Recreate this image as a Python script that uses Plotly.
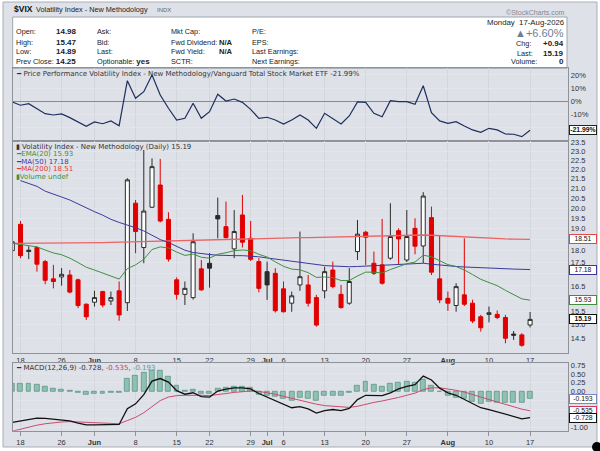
import math
import plotly.graph_objects as go

W, H = 600, 451

# trading days shown on the chart
dates = [
    "2026-05-15", "2026-05-18", "2026-05-19", "2026-05-20", "2026-05-21", "2026-05-22",
    "2026-05-26", "2026-05-27", "2026-05-28", "2026-05-29",
    "2026-06-01", "2026-06-02", "2026-06-03", "2026-06-04", "2026-06-05",
    "2026-06-08", "2026-06-09", "2026-06-10", "2026-06-11", "2026-06-12",
    "2026-06-15", "2026-06-16", "2026-06-17", "2026-06-18",
    "2026-06-22", "2026-06-23", "2026-06-24", "2026-06-25", "2026-06-26",
    "2026-06-29", "2026-06-30", "2026-07-01", "2026-07-02",
    "2026-07-06", "2026-07-07", "2026-07-08", "2026-07-09", "2026-07-10",
    "2026-07-13", "2026-07-14", "2026-07-15", "2026-07-16", "2026-07-17",
    "2026-07-20", "2026-07-21", "2026-07-22", "2026-07-23", "2026-07-24",
    "2026-07-27", "2026-07-28", "2026-07-29", "2026-07-30", "2026-07-31",
    "2026-08-03", "2026-08-04", "2026-08-05", "2026-08-06", "2026-08-07",
    "2026-08-10", "2026-08-11", "2026-08-12", "2026-08-13", "2026-08-14",
    "2026-08-17",
]

opens = [18.0, 19.21, 18.02, 18.14, 17.52, 16.79, 16.87, 16.95, 16.75, 15.77,
         15.85, 16.27, 15.9, 16.3, 15.83, 20.24, 18.14, 20.04, 21.17, 19.45,
         16.75, 16.16, 16.03, 17.21, 17.45, 19.63, 19.1, 18.08, 19.66, 18.56,
         17.52, 17.09, 17.02, 16.38, 15.81, 16.54, 16.54, 16.03, 16.3, 17.16,
         16.16, 15.81, 17.96, 18.84, 17.45, 17.38, 17.67, 18.91, 17.59, 19.02,
         18.21, 19.53, 16.79, 16.0, 15.72, 16.14, 15.81, 15.29, 15.38, 15.38,
         15.26, 14.65, 14.62, 14.98]
highs = [18.45, 19.37, 18.2, 18.2, 17.59, 17.38, 17.24, 17.16, 16.8, 15.8,
         16.3, 16.3, 16.27, 16.68, 21.53, 20.4, 23.08, 22.61, 22.58, 19.79,
         16.85, 16.68, 18.79, 17.59, 17.89, 20.52, 20.32, 19.9, 20.66, 19.37,
         17.67, 17.52, 17.24, 16.68, 16.27, 18.87, 16.95, 16.14, 17.3, 17.52,
         16.54, 17.24, 19.42, 18.9, 17.96, 19.47, 20.24, 19.02, 19.9, 19.5,
         20.8, 20.07, 18.71, 16.27, 16.61, 18.56, 15.95, 15.36, 15.68, 15.53,
         15.36, 14.76, 14.68, 15.47]
lows = [17.9, 17.67, 17.63, 17.09, 16.57, 16.4, 16.51, 16.2, 15.62, 15.17,
        15.68, 15.65, 15.74, 15.14, 15.51, 17.89, 17.45, 20.0, 19.3, 17.52,
        15.95, 15.74, 15.95, 16.3, 16.43, 18.56, 18.55, 17.67, 18.14, 17.55,
        16.24, 15.94, 15.45, 15.45, 15.48, 16.3, 15.68, 14.92, 16.0, 16.4,
        15.6, 15.75, 17.59, 17.38, 16.95, 16.55, 17.6, 17.38, 17.5, 17.84,
        17.45, 16.95, 15.81, 15.51, 15.48, 15.7, 15.05, 14.74, 15.08, 15.2,
        14.32, 14.44, 14.2, 14.89]
closes = [18.4, 17.78, 17.97, 17.41, 16.73, 16.68, 16.98, 16.25, 15.72, 15.29,
          16.03, 15.74, 16.03, 15.36, 21.44, 18.87, 19.85, 22.15, 19.37, 17.63,
          16.16, 16.4, 18.4, 16.34, 17.24, 19.47, 18.59, 18.87, 18.38, 17.62,
          16.4, 16.54, 15.52, 15.48, 16.1, 16.88, 15.81, 14.98, 17.09, 16.47,
          15.64, 16.68, 18.75, 18.61, 17.02, 16.61, 18.64, 18.53, 18.64, 18.2,
          20.6, 17.07, 15.94, 15.81, 16.47, 15.77, 15.13, 14.88, 15.44, 15.26,
          14.5, 14.61, 14.25, 15.19]

ema20 = [18.33, 18.28, 18.25, 18.17, 18.03, 17.9, 17.82, 17.67, 17.48, 17.28,
         17.16, 17.03, 16.93, 16.78, 17.22, 17.38, 17.62, 18.05, 18.17, 18.12,
         17.94, 17.79, 17.85, 17.71, 17.67, 17.84, 17.91, 18.0, 18.03, 18.0,
         17.84, 17.72, 17.51, 17.32, 17.2, 17.17, 17.05, 16.85, 16.87, 16.84,
         16.72, 16.72, 16.91, 17.07, 17.07, 17.03, 17.18, 17.31, 17.43, 17.5,
         17.8, 17.73, 17.56, 17.39, 17.31, 17.16, 16.97, 16.77, 16.64, 16.51,
         16.32, 16.16, 15.98, 15.93]
ma50 = [None, 21.4, 21.25, 21.1, 20.85, 20.68, 20.55, 20.4, 20.2, 20.0,
        19.82, 19.65, 19.45, 19.3, 19.18, 19.05, 18.9, 18.7, 18.5, 18.37,
        18.18, 18.02, 17.92, 17.86, 17.83, 17.8, 17.78, 17.78, 17.78, 17.77,
        17.73, 17.68, 17.63, 17.57, 17.52, 17.47, 17.42, 17.39, 17.35, 17.33,
        17.31, 17.3, 17.31, 17.33, 17.35, 17.36, 17.37, 17.39, 17.41, 17.43,
        17.45, 17.41, 17.37, 17.34, 17.31, 17.29, 17.27, 17.26, 17.24, 17.23,
        17.21, 17.2, 17.19, 17.18]
ma200 = [18.33, 18.33, 18.33, 18.33, 18.34, 18.34, 18.34, 18.34, 18.35, 18.35,
         18.35, 18.36, 18.37, 18.38, 18.39, 18.4, 18.41, 18.42, 18.43, 18.45,
         18.46, 18.47, 18.48, 18.5, 18.51, 18.52, 18.53, 18.54, 18.55, 18.56,
         18.56, 18.57, 18.57, 18.58, 18.58, 18.59, 18.59, 18.6, 18.6, 18.61,
         18.62, 18.64, 18.65, 18.67, 18.68, 18.69, 18.7, 18.71, 18.71, 18.71,
         18.71, 18.7, 18.68, 18.65, 18.62, 18.6, 18.58, 18.57, 18.55, 18.54,
         18.53, 18.52, 18.52, 18.51]

# price performance vs VTI, percent
perf = [-0.5, -3.0, -1.8, -5.3, -9.4, -10.4, -9.6, -12.4, -15.5, -18.9,
        -15.7, -17.0, -14.9, -18.5, 15.6, 2.3, 7.3, 19.9, 4.8, -5.3,
        -14.2, -12.9, -1.5, -12.9, -7.9, 5.3, 0.2, 1.7, -0.8, -6.1,
        -12.9, -12.1, -14.2, -17.2, -14.2, -10.4, -14.2, -20.5, -9.1, -12.9,
        -17.2, -11.1, -0.5, -0.8, -9.1, -11.7, 0.5, -0.3, -0.3, -2.3,
        11.8, -8.6, -14.9, -16.7, -15.5, -18.7, -21.7, -23.5, -20.5, -21.7,
        -24.8, -25.0, -26.8, -21.99]

macd = [-0.86, -0.82, -0.76, -0.74, -0.75, -0.77, -0.78, -0.82, -0.88, -0.93,
        -0.93, -0.93, -0.91, -0.92, -0.48, -0.34, -0.08, 0.30, 0.37, 0.27,
        0.03, -0.07, -0.03, -0.14, -0.15, 0.02, 0.07, 0.11, 0.11, 0.08,
        -0.05, -0.15, -0.26, -0.36, -0.45, -0.42, -0.48, -0.60, -0.53, -0.50,
        -0.53, -0.47, -0.22, -0.10, -0.10, -0.11, -0.03, 0.08, 0.15, 0.20,
        0.44, 0.33, 0.10, -0.03, -0.10, -0.21, -0.33, -0.45, -0.50, -0.56,
        -0.64, -0.70, -0.76, -0.728]
signal = [-1.11, -1.05, -0.99, -0.94, -0.90, -0.87, -0.85, -0.84, -0.85, -0.87,
          -0.88, -0.89, -0.89, -0.90, -0.81, -0.72, -0.59, -0.41, -0.25, -0.15,
          -0.11, -0.10, -0.09, -0.10, -0.11, -0.09, -0.05, -0.02, 0.01, 0.02,
          0.01, -0.02, -0.07, -0.13, -0.19, -0.24, -0.29, -0.35, -0.39, -0.41,
          -0.44, -0.44, -0.41, -0.35, -0.30, -0.26, -0.22, -0.16, -0.10, -0.04,
          0.06, 0.11, 0.11, 0.08, 0.04, -0.01, -0.07, -0.15, -0.22, -0.29,
          -0.36, -0.43, -0.49, -0.535]
hist = [0.23, 0.23, 0.23, 0.19, 0.13, 0.09, 0.07, 0.02, -0.03, -0.08,
        -0.06, -0.06, -0.04, -0.03, 0.37, 0.45, 0.53, 0.59, 0.59, 0.42,
        0.16, 0.04, 0.07, -0.05, -0.06, 0.09, 0.11, 0.13, 0.13, 0.10,
        -0.08, -0.10, -0.14, -0.19, -0.25, -0.17, -0.20, -0.25, -0.12, -0.10,
        -0.12, -0.03, 0.16, 0.27, 0.19, 0.14, 0.23, 0.26, 0.29, 0.26,
        0.35, 0.18, 0.01, -0.12, -0.17, -0.20, -0.27, -0.34, -0.29, -0.30,
        -0.30, -0.30, -0.30, -0.193]

tick_dates = ["2026-05-18", "2026-05-26", "2026-06-01", "2026-06-08", "2026-06-15",
              "2026-06-22", "2026-06-29", "2026-07-01", "2026-07-06", "2026-07-13",
              "2026-07-20", "2026-07-27", "2026-08-03", "2026-08-10", "2026-08-17"]
tick_text = ["18", "26", "<b>Jun</b>", "8", "15", "22", "29", "<b>Jul</b>", "6", "13",
             "20", "27", "<b>Aug</b>", "10", "17"]

main_ticks = [14.5 + 0.5 * k for k in range(19)]
main_hidden = [16.0, 17.0, 18.5]          # covered by the value tags
perf_ticks = [-20, -10, 0, 10, 20]
macd_ticks = [-1.0, -0.75, -0.5, -0.25, 0.0, 0.25, 0.5, 0.75]
macd_hidden = [-0.75, -0.5, -0.25]


def px(x):
    return x / W


def py(y):
    return 1 - y / H


SANS = "Liberation Sans"
VERD = "DejaVu Sans"

# stockcharts colouring: red when close < previous close
is_red = [False] + [closes[i] < closes[i - 1] for i in range(1, len(closes))]

fig = go.Figure()

fig.add_trace(go.Scatter(x=dates, y=perf, mode="lines", line=dict(color="#1d2f5e", width=1.2),
                         xaxis="x", yaxis="y", hoverinfo="skip"))

for red in (False, True):
    idx = [i for i in range(len(dates)) if is_red[i] == red]
    col = "#e00000" if red else "#2a2a2a"
    fig.add_trace(go.Candlestick(
        x=[dates[i] for i in idx],
        open=[opens[i] for i in idx], high=[highs[i] for i in idx],
        low=[lows[i] for i in idx], close=[closes[i] for i in idx],
        increasing=dict(line=dict(color=col, width=1), fillcolor="#ffffff"),
        decreasing=dict(line=dict(color=col, width=1), fillcolor=col),
        whiskerwidth=0, xaxis="x2", yaxis="y2", hoverinfo="skip",
    ))

fig.add_trace(go.Scatter(x=dates, y=ma200, mode="lines", line=dict(color="#ec6464", width=1.3),
                         xaxis="x2", yaxis="y2", hoverinfo="skip"))
fig.add_trace(go.Scatter(x=dates, y=ma50, mode="lines", line=dict(color="#3a3a9e", width=1),
                         xaxis="x2", yaxis="y2", hoverinfo="skip"))
fig.add_trace(go.Scatter(x=dates, y=ema20, mode="lines", line=dict(color="#3f8f3f", width=1),
                         xaxis="x2", yaxis="y2", hoverinfo="skip"))

fig.add_trace(go.Bar(x=dates, y=hist, width=0.6,
                     marker=dict(color="#8fc0b1", line=dict(color="#5b9787", width=0.8)),
                     xaxis="x3", yaxis="y3", hoverinfo="skip"))
fig.add_trace(go.Scatter(x=dates, y=signal, mode="lines", line=dict(color="#cc4a6c", width=1),
                         xaxis="x3", yaxis="y3", hoverinfo="skip"))
fig.add_trace(go.Scatter(x=dates, y=macd, mode="lines", line=dict(color="#111111", width=1.3),
                         xaxis="x3", yaxis="y3", hoverinfo="skip"))

x_dom = [px(12.7), px(568.3)]
tickfont = dict(family=SANS, size=7.5, color="#333")


def xaxis(anchor, labels, ticklen=0):
    return dict(
        domain=x_dom, anchor=anchor, type="category", categoryorder="array",
        categoryarray=dates, range=[0.05, 67.65], tickmode="array",
        tickvals=tick_dates, ticktext=tick_text, showticklabels=labels,
        tickfont=tickfont, ticks="outside" if ticklen else "", ticklen=ticklen,
        tickcolor="#8d929b", showgrid=True, gridcolor="#d2d5dc",
        showline=True, linecolor="#8d929b", mirror=True, zeroline=False,
        rangeslider=dict(visible=False), fixedrange=True, automargin=False,
    )


def yaxis(anchor, dom, **kw):
    d = dict(domain=dom, anchor=anchor, side="right", tickfont=tickfont, ticks="",
             showgrid=True, gridcolor="#e3e5ea", showline=True, linecolor="#8d929b",
             mirror=True, tickmode="array", fixedrange=True, automargin=False)
    d.update(kw)
    return d


fig.update_layout(
    width=W, height=H, margin=dict(l=0, r=0, t=0, b=0, autoexpand=False),
    paper_bgcolor="#ffffff", plot_bgcolor="#f8f9fc",
    showlegend=False, bargap=0,
    xaxis=xaxis("y", False),
    xaxis2=dict(xaxis("y2", True), matches="x"),
    xaxis3=dict(xaxis("y3", True, ticklen=4), matches="x"),
    yaxis=yaxis("x", [py(141), py(68.3)], range=[-30.1, 25], tickvals=perf_ticks,
                ticktext=["" if v == -20 else f"{v}%" for v in perf_ticks], zeroline=True,
                zerolinecolor="#8a8a8a", zerolinewidth=1),
    yaxis2=yaxis("x2", [py(353.3), py(141)], type="log",
                 range=[math.log10(13.97), math.log10(23.6)], tickvals=main_ticks,
                 ticktext=["" if v in main_hidden else f"{v:.1f}" for v in main_ticks],
                 zeroline=False),
    yaxis3=yaxis("x3", [py(430.7), py(362.7)], range=[-1.095, 0.815], tickvals=macd_ticks,
                 ticktext=["" if v in macd_hidden else f"{v:.2f}" for v in macd_ticks],
                 zeroline=False),
)

shapes = [
    dict(type="rect", xref="paper", yref="paper", x0=px(3), x1=px(597), y0=py(447), y1=py(2),
         fillcolor="#dee1e8", line=dict(color="#a9aeb6", width=1), layer="below"),
    dict(type="rect", xref="paper", yref="paper", x0=px(12.7), x1=px(567), y0=py(68.3), y1=py(17),
         fillcolor="#ffffff", line=dict(color="#a0a5ad", width=1), layer="below"),
    dict(type="circle", xref="paper", yref="paper", x0=px(592), x1=px(602), y0=py(452), y1=py(442),
         fillcolor="#000000", line=dict(color="#000000", width=0)),
]

ann = []


def text(x, y, s, size=7.3, color="#222", family=SANS, anchor="left"):
    ann.append(dict(x=px(x), y=py(y), xref="paper", yref="paper", text=s, showarrow=False,
                    xanchor=anchor, yanchor="middle", borderpad=0,
                    font=dict(family=family, size=size, color=color)))


# header
text(13, 9, "<b>$VIX</b>", size=8.5, color="#111")
text(35, 9.5, "Volatility Index - New Methodology", size=7.3, color="#222")
text(156, 10, "INDX", size=6, color="#666")
text(566, 12, "©StockCharts.com", size=7, color="#858a93", anchor="right")

# info box
rows = [32, 42, 52, 61.5]
for y, lab, val in zip(rows[:3], ["Open:", "High:", "Low:"], ["14.98", "15.47", "14.89"]):
    text(15, y, lab)
    text(55, y, f"<b>{val}</b>", size=8)
text(15, rows[3], "Prev Close: <b style='font-size:8px'>14.25</b>")
for y, lab in zip(rows, ["Ask:", "Bid:", "Last:", "Optionable: <b style='font-size:8px'>yes</b>"]):
    text(96, y, lab)
for y, lab in zip(rows, ["Mkt Cap:", "Fwd Dividend:", "Fwd Yield:", "SCTR:"]):
    text(170, y, lab)
text(218, rows[1], "<b>N/A</b>", size=7.6)
text(218, rows[2], "<b>N/A</b>", size=7.6)
for y, lab in zip(rows, ["P/E:", "EPS:", "Last Earnings:", "Next Earnings:"]):
    text(251, y, lab)

text(565, 22, "Monday  17-Aug-2026", size=7.8, anchor="right")
text(565, 33, "▲+6.60%", size=11, color="#6a7f98", anchor="right")
text(515, 44, "Chg:")
text(565, 44, "<b>+0.94</b>", size=8, anchor="right")
text(516, 53, "Last:")
text(565, 53, "<b>15.19</b>", size=8, anchor="right")
text(510, 62, "Volume:")
text(565, 62, "<b>0</b>", size=8, anchor="right")

# panel legends
text(15, 73.5, "<span style='color:#1d2f5e'>━</span> Price Performance Volatility Index - New Methodology/Vanguard Total Stock Market ETF -21.99%",
     size=7, color="#333", family=VERD)
text(15, 146.5, "▮ Volatility Index - New Methodology (Daily) 15.19", size=7, color="#333", family=VERD)
text(15, 154, "━EMA(20) 15.93", size=7, color="#3f8f3f", family=VERD)
text(15, 161.5, "━MA(50) 17.18", size=7, color="#3a3a9e", family=VERD)
text(15, 169, "━MA(200) 18.51", size=7, color="#e03a3a", family=VERD)
text(15, 176.5, "▮Volume undef", size=7, color="#3f8f3f", family=VERD)
text(15, 367.5, "━ MACD(12,26,9) -0.728, <span style='color:#cc3a60'>-0.535</span>, <span style='color:#5c9c8c'>-0.193</span>",
     size=7, color="#333", family=VERD)


# right-hand value tags, placed on the value's own axis
def tag(yref, yval, s, border, bold=False):
    ann.append(dict(x=px(568.8), y=yval, xref="paper", yref=yref, text=f"<b>{s}</b>" if bold else s,
                    showarrow=False, xanchor="left", yanchor="middle", align="center",
                    width=26, height=7.5, bgcolor="#ffffff", bordercolor=border,
                    borderwidth=1, borderpad=0,
                    font=dict(family=SANS, size=6.8, color="#111")))


tag("y", perf[-1], f"{perf[-1]:.2f}%", "#222", bold=True)
tag("y2", math.log10(ma200[-1]), f"{ma200[-1]:.2f}", "#e04848")
tag("y2", math.log10(ma50[-1]), f"{ma50[-1]:.2f}", "#3a3a9e")
tag("y2", math.log10(ema20[-1]), f"{ema20[-1]:.2f}", "#3f8f3f")
tag("y2", math.log10(closes[-1]), f"{closes[-1]:.2f}", "#111", bold=True)
tag("y3", hist[-1], f"{hist[-1]:.3f}", "#8080c8")
tag("y3", signal[-1], f"{signal[-1]:.3f}", "#cc3a60")
tag("y3", macd[-1], f"{macd[-1]:.3f}", "#111")

fig.update_layout(shapes=shapes, annotations=ann)

# the page body has a default 8px margin; drop it so the figure fills the window
fig.write_html("out.html", config={"displayModeBar": False},
               post_script="document.body.style.margin='0';document.body.style.overflow='hidden';")
